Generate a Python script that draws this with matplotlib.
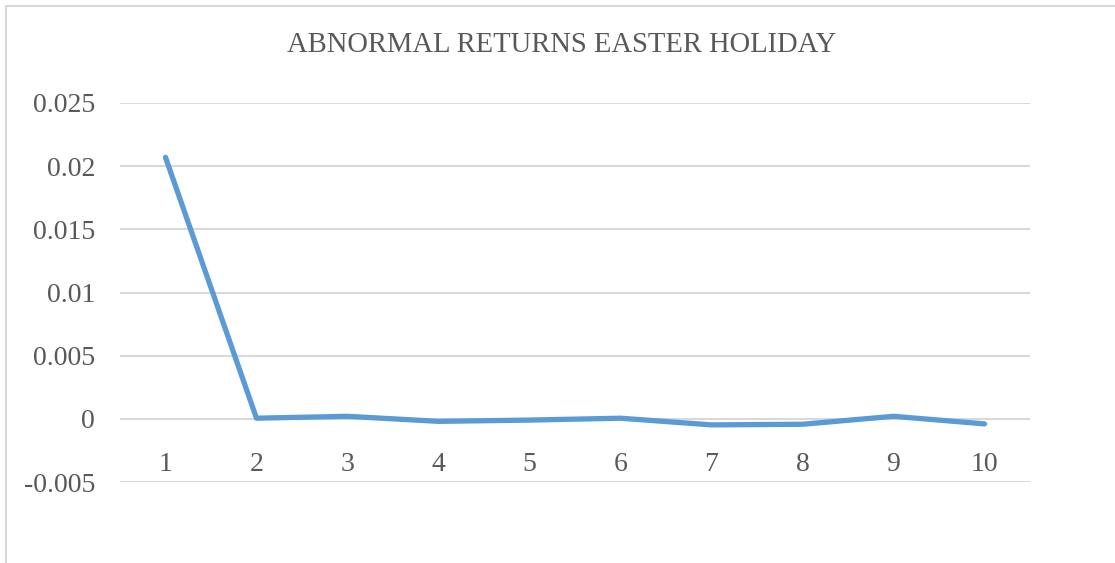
#%% Load Libraries
import matplotlib
matplotlib.use('Agg')
from matplotlib import pyplot as plt
from matplotlib.patches import Rectangle

#%% Data
days = [1, 2, 3, 4, 5, 6, 7, 8, 9, 10]
abnormal_returns = [0.0207, 0.00005, 0.0002, -0.0002, -0.0001, 0.00005, -0.00048, -0.00043, 0.0002, -0.0004]
yticks = [-0.005, 0, 0.005, 0.01, 0.015, 0.02, 0.025]
ytick_labels = ['-0.005', '0', '0.005', '0.01', '0.015', '0.02', '0.025']
title = 'ABNORMAL RETURNS EASTER HOLIDAY'

#%% Style
txt_col = '#595959'
grid_col = '#d9d9d9'
line_col = '#5b9bd5'
plt.rcParams['font.family'] = ['Liberation Serif', 'DejaVu Serif']

fig = plt.figure(figsize=(11.15, 5.63), dpi=100)

# chart area border (cut by the page edge on the right and bottom)
fig.patches.append(Rectangle((6/1115, -0.1), 1.2, 1 - 6/563 + 0.1, transform=fig.transFigure,
                             fill=False, edgecolor=grid_col, linewidth=1.5))

ax = fig.add_axes([120/1115, 1 - 482/563, 910/1115, 379/563])
ax.plot(days, abnormal_returns, color=line_col, linewidth=3.8, solid_capstyle='round',
        solid_joinstyle='round', zorder=3)

ax.set_xlim(0.5, 10.5)
ax.set_ylim(-0.005, 0.025)
ax.set_yticks(yticks)
ax.set_yticklabels(ytick_labels)
ax.set_xticks([])
ax.grid(axis='y', color=grid_col, linewidth=1.5)
ax.set_axisbelow(True)
for s in ax.spines.values():
    s.set_visible(False)
ax.tick_params(axis='y', length=0, pad=18, labelsize=20, labelcolor=txt_col)

# category labels sit just under the zero line
for d in days:
    ax.text(d, -0.0036, str(d), ha='center', va='center', fontsize=20, color=txt_col)

fig.text(562/1115, 1 - 45/563, title, ha='center', va='center', fontsize=20.6, color=txt_col)

fig.savefig('out.png', dpi=100)
